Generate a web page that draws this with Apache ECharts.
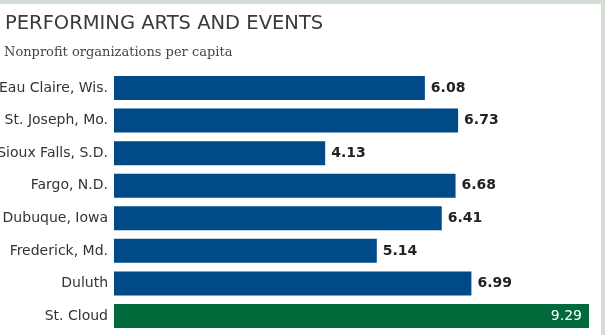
<!DOCTYPE html>
<html>
<head>
<meta charset="utf-8">
<script src="https://cdn.jsdelivr.net/npm/echarts@6/dist/echarts.min.js"></script>
<style>
html,body{margin:0;padding:0;background:#fff;}
#c{width:605px;height:335px;}
</style>
</head>
<body>
<div id="c"></div>
<script>
var categories = ['Eau Claire, Wis.', 'St. Joseph, Mo.', 'Sioux Falls, S.D.', 'Fargo, N.D.', 'Dubuque, Iowa', 'Frederick, Md.', 'Duluth', 'St. Cloud'];
var values = [6.08, 6.73, 4.13, 6.68, 6.41, 5.14, 6.99, 9.29];
var highlight = 'St. Cloud';

var sans = "'DejaVu Sans', sans-serif";
var chart = echarts.init(document.getElementById('c'));

var data = values.map(function (v, i) {
  var hl = categories[i] === highlight;
  return {
    value: v,
    itemStyle: { color: hl ? '#006a3a' : '#004b87' },
    label: hl ? {
      position: 'insideRight', distance: 7, color: '#ffffff', fontWeight: 'normal'
    } : {}
  };
});

chart.setOption({
  animation: false,
  backgroundColor: '#ffffff',
  title: [
    {
      text: 'PERFORMING ARTS AND EVENTS',
      left: 0, top: 9,
      textStyle: { fontFamily: sans, fontSize: 19.5, fontWeight: 'normal', color: '#3a3a3a' }
    },
    {
      text: 'Nonprofit organizations per capita',
      left: -1, top: 41,
      textStyle: { fontFamily: "'DejaVu Serif', serif", fontSize: 13, fontWeight: 'normal', color: '#444' }
    }
  ],
  graphic: [
    { type: 'rect', shape: { x: 0, y: 0, width: 605, height: 4 }, style: { fill: '#d3ddd3' }, z: 100 },
    { type: 'rect', shape: { x: 601, y: 0, width: 4, height: 335 }, style: { fill: '#d3ddd3' }, z: 100 }
  ],
  grid: { left: 114, right: 16, top: 71.7, bottom: 2.7, containLabel: false, outerBoundsMode: 'none' },
  xAxis: {
    type: 'value', min: 0, max: 9.29, show: false
  },
  yAxis: {
    type: 'category', data: categories, inverse: true,
    axisLine: { show: false }, axisTick: { show: false },
    axisLabel: { margin: 6, fontFamily: sans, fontSize: 14, color: '#333' }
  },
  series: [{
    type: 'bar',
    data: data,
    barWidth: 24,
    label: {
      show: true, position: 'right', distance: 6,
      fontFamily: sans, fontSize: 14, fontWeight: 'bold', color: '#222',
      formatter: function (p) { return p.value.toFixed(2); }
    }
  }]
});
</script>
</body>
</html>
